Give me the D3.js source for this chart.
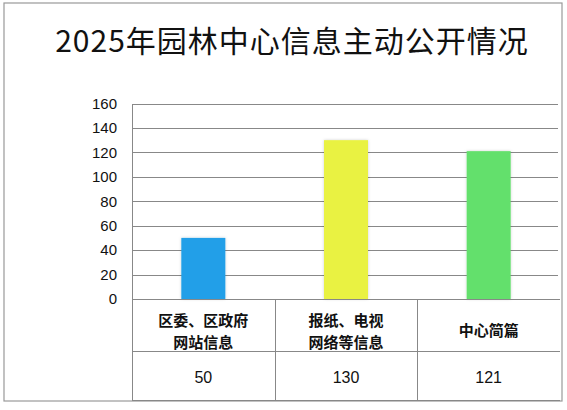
<!DOCTYPE html>
<html>
<head>
<meta charset="utf-8">
<script src="https://cdn.jsdelivr.net/npm/d3@7"></script>
<style>
  body { margin: 0; background: #fff; }
  svg { display: block; }
</style>
</head>
<body>
<svg id="chart" width="567" height="410"></svg>
<script>
var title = "2025年园林中心信息主动公开情况";
var categories = ["区委、区政府网站信息", "报纸、电视网络等信息", "中心简篇"];
var labelLines = [["区委、区政府", "网站信息"], ["报纸、电视", "网络等信息"], ["中心简篇"]];
var values = [50, 130, 121];
var colors = ["#209fe8", "#e9f243", "#63e06c"];
var yTicks = [0, 20, 40, 60, 80, 100, 120, 140, 160];

function drawChart() {
  var svg = d3.select("#chart");
  var plotLeft = 132, plotRight = 560, plotTop = 103.5, zeroY = 299, rowMid = 350.5, tableBottom = 400;

  // outer frame
  svg.append("rect")
    .attr("x", 4).attr("y", 3).attr("width", 558).attr("height", 398)
    .attr("fill", "none").attr("stroke", "#999").attr("stroke-width", 1.2);

  svg.append("text")
    .attr("x", 292).attr("y", 52)
    .attr("text-anchor", "middle")
    .style("font-family", "'Noto Sans CJK SC', sans-serif")
    .style("font-size", "30px")
    .style("letter-spacing", "1px")
    .attr("fill", "#111")
    .text(title);

  var x = d3.scaleBand().domain(categories).range([plotLeft, plotRight]).padding(0);
  var y = d3.scaleLinear().domain([0, 160]).range([zeroY, plotTop]);

  // gridlines
  svg.append("g").selectAll("line")
    .data(yTicks)
    .enter().append("line")
    .attr("x1", plotLeft).attr("x2", plotRight - 2)
    .attr("y1", function(d) { return Math.round(y(d)) + 0.5; })
    .attr("y2", function(d) { return Math.round(y(d)) + 0.5; })
    .attr("stroke", "#888").attr("stroke-width", 1);

  var yAxis = d3.axisLeft(y).tickValues(yTicks).tickSize(0).tickPadding(15);
  var ga = svg.append("g").attr("transform", "translate(" + plotLeft + ",0)").call(yAxis);
  ga.select(".domain").remove();
  ga.selectAll("text")
    .style("font-family", "'Liberation Sans', Arial, sans-serif")
    .style("font-size", "15px")
    .attr("fill", "#111");

  // vertical axis line down through table
  svg.append("line")
    .attr("x1", plotLeft + 0.5).attr("x2", plotLeft + 0.5)
    .attr("y1", Math.round(y(160))).attr("y2", tableBottom)
    .attr("stroke", "#888");

  // faint bar shadow
  var defs = svg.append("defs");
  var f = defs.append("filter").attr("id", "sh").attr("x", "-20%").attr("y", "-10%").attr("width", "140%").attr("height", "120%");
  f.append("feDropShadow").attr("dx", 0).attr("dy", 0).attr("stdDeviation", 1.5).attr("flood-color", "#000").attr("flood-opacity", 0.18);

  var bw = 44;
  svg.append("g").selectAll("rect")
    .data(values)
    .enter().append("rect")
    .attr("x", function(d, i) { return x(categories[i]) + x.bandwidth() / 2 - bw / 2; })
    .attr("y", function(d) { return y(d); })
    .attr("width", bw)
    .attr("height", function(d) { return zeroY - y(d); })
    .attr("fill", function(d, i) { return colors[i]; })
    .attr("filter", "url(#sh)");

  // data table under the plot
  var tbl = svg.append("g");
  [zeroY, rowMid, tableBottom].forEach(function(yy) {
    tbl.append("line").attr("x1", plotLeft).attr("x2", plotRight)
      .attr("y1", Math.round(yy) + 0.5).attr("y2", Math.round(yy) + 0.5)
      .attr("stroke", "#888");
  });
  categories.forEach(function(c, i) {
    if (i > 0) {
      tbl.append("line")
        .attr("x1", Math.round(x(c)) + 0.5).attr("x2", Math.round(x(c)) + 0.5)
        .attr("y1", zeroY).attr("y2", tableBottom)
        .attr("stroke", "#888");
    }
    var cx = x(c) + x.bandwidth() / 2;
    var lines = labelLines[i];
    var t = tbl.append("text")
      .attr("text-anchor", "middle")
      .style("font-family", "'Noto Sans CJK SC', sans-serif")
      .style("font-size", "15px")
      .style("font-weight", "bold")
      .attr("fill", "#111");
    lines.forEach(function(l, j) {
      t.append("tspan").attr("x", cx)
        .attr("y", (lines.length === 1 ? 330 : 320 + j * 22) + 5.5)
        .text(l);
    });
    tbl.append("text")
      .attr("x", cx).attr("y", 383)
      .attr("text-anchor", "middle")
      .style("font-family", "'Liberation Sans', Arial, sans-serif")
      .style("font-size", "16px")
      .attr("fill", "#111")
      .text(values[i]);
  });
}

drawChart();
</script>
</body>
</html>
